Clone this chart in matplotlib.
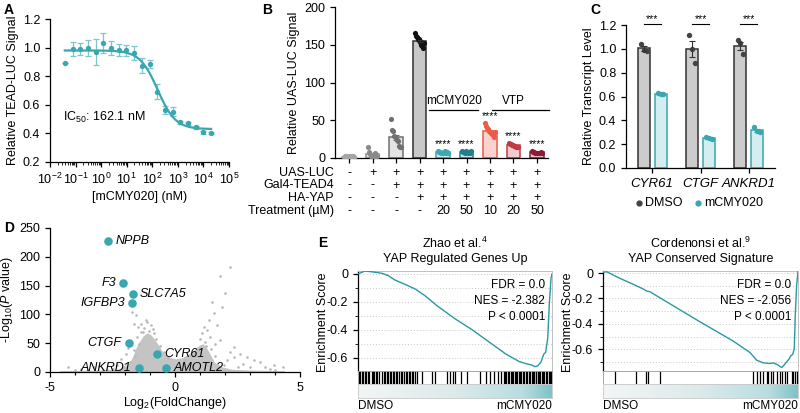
import numpy as np
import matplotlib
matplotlib.use('Agg')
import matplotlib.pyplot as plt
from matplotlib.colors import LinearSegmentedColormap
from matplotlib.ticker import LogLocator, NullFormatter, MultipleLocator, FixedLocator
from matplotlib.lines import Line2D
import matplotlib.transforms as mtransforms

plt.rcParams['font.family'] = ['Liberation Sans', 'DejaVu Sans']
plt.rcParams['font.size'] = 9
plt.rcParams['axes.linewidth'] = 0.9
plt.rcParams['axes.unicode_minus'] = False
plt.rcParams['mathtext.fontset'] = 'custom'
plt.rcParams['mathtext.rm'] = 'Liberation Sans'
plt.rcParams['mathtext.it'] = 'Liberation Sans:italic'
plt.rcParams['mathtext.bf'] = 'Liberation Sans:bold'
plt.rcParams['xtick.major.width'] = 0.9
plt.rcParams['ytick.major.width'] = 0.9
plt.rcParams['xtick.major.size'] = 3.5
plt.rcParams['ytick.major.size'] = 3.5

TEAL = '#3aa7b0'
TEAL_L = '#7cc6cc'
TEAL_D = '#2a98a2'

# ---------------- DATA ----------------
# Panel A: dose response
a_conc = [0.038, 0.076, 0.153, 0.305, 0.61, 1.22, 2.44, 4.88, 9.77, 19.5,
          39.1, 78.1, 156, 313, 625, 1250, 2500, 5000, 10000, 20000]
a_resp = [0.895, 0.99, 0.99, 0.998, 0.967, 1.03, 0.995, 0.984, 0.98, 0.96,
          0.874, 0.884, 0.693, 0.565, 0.553, 0.477, 0.472, 0.442, 0.409, 0.402]
a_err = [0.0, 0.05, 0.04, 0.055, 0.09, 0.07, 0.05, 0.04, 0.04, 0.05,
         0.05, 0.03, 0.05, 0.03, 0.03, 0.01, 0.01, 0.01, 0.01, 0.005]
fit_top, fit_bottom, fit_ic50, fit_hill = 0.98, 0.43, 162.1, 1.25

# Panel B: UAS-LUC reporter
b_points = [
    [1, 2, 3, 1.5, 2.5, 2, 1, 3, 2, 1.5],
    [14, 8, 5, 3, 2, 1, 4, 6, 2, 3],
    [51, 37, 36, 29, 27, 24, 23, 16, 15, 14],
    [165, 162, 160, 158, 157, 155, 153, 150, 148, 146, 152],
    [9, 8, 8, 7, 7, 8, 9, 7, 8, 6],
    [9, 8, 8, 7, 9, 8, 7, 8, 6, 9],
    [46, 42, 40, 38, 36, 34, 33, 32, 30, 28, 35],
    [20, 19, 18, 17, 17, 16, 16, 15, 15, 14],
    [9, 8, 8, 7, 7, 6, 7, 6, 8, 7],
]
b_fill = ['#e6e6e6', '#e6e6e6', '#e3e3e3', '#c8c8c8', '#cdebee', '#cde4e7',
          '#fbd3cc', '#f2c9cc', '#e8c3c9']
b_edge = ['#a5a5a5', '#8a8a8a', '#707070', '#303030', '#3aa9b4', '#1f7f8c',
          '#ee5a48', '#c13a44', '#8c1c33']
b_pts = ['#a5a5a5', '#8a8a8a', '#707070', '#111111', '#3aa9b4', '#1f7f8c',
         '#ee5a48', '#c13a44', '#8c1c33']
b_rows = ['UAS-LUC', 'Gal4-TEAD4', 'HA-YAP', 'Treatment (µM)']
b_table = [
    ['-', '+', '+', '+', '+', '+', '+', '+', '+'],
    ['-', '-', '+', '+', '+', '+', '+', '+', '+'],
    ['-', '-', '-', '+', '+', '+', '+', '+', '+'],
    ['-', '-', '-', '-', '20', '50', '10', '20', '50'],
]

# Panel C: transcript levels
c_genes = ['CYR61', 'CTGF', 'ANKRD1']
c_dmso = [[1.04, 0.99, 0.98], [1.12, 1.00, 0.88], [1.07, 1.05, 0.96]]
c_mcmy = [[0.63, 0.62, 0.62], [0.26, 0.25, 0.24], [0.34, 0.31, 0.30]]

# Panel D: volcano
d_genes = ['NPPB', 'F3', 'SLC7A5', 'IGFBP3', 'CTGF', 'CYR61', 'ANKRD1', 'AMOTL2']
d_fc = [-2.67, -2.09, -1.69, -1.72, -1.85, -0.72, -1.46, -0.35]
d_p = [228, 154, 135, 119, 51, 31, 7.5, 7.5]
d_side = ['r', 'l', 'r', 'l', 'l', 'r', 'l', 'r']
# outline of the dense cloud of non-highlighted genes
cloud_x = [-4.6, -4.6, -3.0, -2.3, -2.0, -1.8, -1.65, -1.55, -1.4, -1.25, -1.1,
           -0.95, -0.8, -0.65, -0.5, -0.35, -0.15, 0.05, 0.3, 0.55, 0.8, 1.0, 1.15,
           1.3, 1.45, 1.6, 1.9, 2.3, 3.0, 4.4, 4.4]
cloud_y = [0, 1.5, 2.5, 4, 8, 15, 28, 40, 52, 62, 67,
           64, 56, 46, 36, 28, 24, 22, 24, 30, 38, 46, 48,
           40, 28, 16, 8, 4, 2.5, 1.5, 0]
sparse_x = [-1.72, -1.58, -1.38, -1.12, -1.25, -1.49, -0.98, -1.65, 2.2, 1.81,
            2.0, 1.87, 1.48, 1.54, 1.34, 1.14, 1.28, 1.68, 1.08, 1.41, 1.81, 2.34,
            2.6, 2.87, 3.14, 3.4, 3.94, 4.33, 2.34, 2.07, 3.0, 3.8, -4.3, -3.78,
            -3.24, -2.71, -2.31, -2.05, -2.18, -1.98, -1.9, -1.52, -1.45, -1.65,
            -1.3, -1.05, -0.85, 1.0, 1.6, 2.2, 2.7, -3.5, -4.0, 4.0, 3.6,
            -1.8, -2.0, -1.6, -0.6, -0.45, -0.3, 0.4, 0.7, 0.9, 1.25, 1.6, 1.95,
            -1.15, -0.9, -1.35, -0.75, 1.2, 1.45, 2.5, -2.5, -2.9]
sparse_y = [105, 99, 84, 87, 76, 78, 81, 84, 183, 166,
            137, 113, 122, 102, 90, 78, 73, 81, 67, 61, 55, 44,
            32, 26, 20, 17, 12, 9, 26, 20, 9, 6, 9, 6,
            9, 4, 12, 9, 23, 32, 41, 61, 49, 38,
            70, 72, 68, 58, 48, 35, 14, 4, 3, 4, 8,
            18, 14, 28, 45, 35, 24, 20, 28, 38, 45, 28, 12,
            90, 75, 70, 58, 52, 40, 8, 6, 4]

# Panel E: GSEA
e1_x = [0, 0.036, 0.062, 0.088, 0.122, 0.156, 0.19, 0.242, 0.294, 0.345, 0.41, 0.5,
        0.59, 0.67, 0.76, 0.83, 0.86, 0.878, 0.895, 0.912, 0.926, 0.943, 0.957,
        0.967, 0.978, 0.986, 0.995, 1.0]
e1_y = [0, 0.021, 0.017, 0.012, 0.005, -0.012, -0.043, -0.074, -0.107, -0.155,
        -0.23, -0.32, -0.40, -0.48, -0.57, -0.625, -0.638, -0.645, -0.65, -0.662,
        -0.657, -0.63, -0.574, -0.56, -0.46, -0.22, -0.03, 0]
e1_hits = [0.005, 0.012, 0.02, 0.027, 0.035, 0.042, 0.05, 0.057, 0.07, 0.078, 0.085,
           0.095, 0.1, 0.11, 0.125, 0.132, 0.14, 0.148, 0.155, 0.163, 0.17, 0.178,
           0.185, 0.195, 0.2, 0.21, 0.22, 0.226, 0.235, 0.245, 0.255, 0.262, 0.27,
           0.278, 0.285, 0.295, 0.305, 0.33, 0.38, 0.395,
           0.46, 0.475, 0.49, 0.5, 0.53, 0.56, 0.63, 0.66, 0.68, 0.7, 0.72, 0.735,
           0.75, 0.758, 0.765, 0.772, 0.78, 0.787, 0.795, 0.8, 0.808, 0.815, 0.82,
           0.828, 0.835, 0.842, 0.85, 0.857, 0.865, 0.872, 0.88, 0.887, 0.895, 0.9,
           0.907, 0.915, 0.92, 0.927, 0.935, 0.94, 0.947, 0.955, 0.96, 0.967, 0.975,
           0.982, 0.99, 0.997]
e2_x = [0, 0.019, 0.053, 0.087, 0.156, 0.207, 0.224, 0.241, 0.258, 0.326, 0.497,
        0.668, 0.754, 0.788, 0.822, 0.856, 0.874, 0.899, 0.916, 0.928, 0.942, 0.956,
        0.962, 0.973, 0.981, 0.986, 0.993, 1.0]
e2_y = [0.005, 0.01, -0.016, -0.042, -0.089, -0.126, -0.142, -0.147, -0.163, -0.226,
        -0.383, -0.535, -0.625, -0.685, -0.706, -0.711, -0.706, -0.724, -0.743,
        -0.724, -0.698, -0.672, -0.651, -0.64, -0.593, -0.33, -0.094, 0.01]
e2_hits = [0.06, 0.17, 0.22, 0.232, 0.29, 0.771, 0.791, 0.805, 0.822, 0.839, 0.848,
           0.86, 0.874, 0.891, 0.908, 0.916, 0.933, 0.942, 0.968, 0.976, 0.985, 0.993]

# ---------------- FIGURE ----------------
W, H = 800, 413
fig = plt.figure(figsize=(8, 4.13), dpi=100)


def box(l, t, r, b):
    return fig.add_axes([l / W, 1 - b / H, (r - l) / W, (b - t) / H])


def ft(x, y, s, **kw):
    return fig.text(x / W, 1 - y / H, s, **kw)


def clean(ax):
    ax.spines['top'].set_visible(False)
    ax.spines['right'].set_visible(False)


# Panel letters
for lt, (x, y) in zip('ABCDE', [(4, 10), (262, 10), (590, 10), (4, 228), (318, 243)]):
    ft(x, y, lt, fontsize=10, fontweight='bold', va='center')

# ---- A ----
axA = box(50, 19, 229, 162)
clean(axA)
axA.set_xscale('log')
axA.set_xlim(1e-2, 1e5)
axA.set_ylim(0.2, 1.2)
axA.errorbar(a_conc, a_resp, yerr=a_err, fmt='none', ecolor=TEAL_L, elinewidth=0.9,
             capsize=2.2, capthick=0.9, zorder=2)
axA.scatter(a_conc, a_resp, s=15, color=TEAL, zorder=3, lw=0)
xx = np.logspace(np.log10(a_conc[0]), np.log10(a_conc[-1]), 300)
yy = fit_bottom + (fit_top - fit_bottom) / (1 + (xx / fit_ic50) ** fit_hill)
axA.plot(xx, yy, color=TEAL, lw=1.6, zorder=2)
axA.set_xticks([10.0 ** k for k in range(-2, 6)])
axA.set_xticklabels(['10$^{%d}$' % k for k in range(-2, 6)])
axA.xaxis.set_minor_locator(LogLocator(base=10, subs=np.arange(2, 10), numticks=20))
axA.xaxis.set_minor_formatter(NullFormatter())
axA.tick_params(axis='x', which='minor', length=2, width=0.6)
axA.set_yticks([0.2, 0.4, 0.6, 0.8, 1.0, 1.2])
axA.set_yticklabels(['0.2', '0.4', '0.6', '0.8', '1.0', '1.2'])
axA.set_xlabel('[mCMY020] (nM)', fontsize=9, labelpad=3)
axA.set_ylabel('Relative TEAD-LUC Signal', fontsize=9, labelpad=3)
axA.text(0.032, 0.515, 'IC$_{50}$: 162.1 nM', fontsize=9, va='center', ha='left')

# ---- B ----
axB = box(335, 7, 548, 158)
clean(axB)
axB.set_xlim(-0.6, 8.47)
axB.set_ylim(0, 200)
for i, vals in enumerate(b_points):
    v = np.array(vals, dtype=float)
    m = v.mean()
    sem = v.std(ddof=1) / np.sqrt(len(v))
    axB.bar(i, m, width=0.58, color=b_fill[i], edgecolor=b_edge[i], lw=1.1, zorder=2)
    axB.errorbar(i, m, yerr=sem, color=b_edge[i], capsize=2, elinewidth=0.8,
                 capthick=0.8, zorder=4)
    offs = np.linspace(-0.2, 0.2, len(v))
    axB.scatter(i + offs, v, s=14, color=b_pts[i], zorder=3, lw=0)
axB.set_xticks(range(9))
axB.set_xticklabels([])
axB.set_yticks([0, 50, 100, 150, 200])
axB.set_ylabel('Relative UAS-LUC Signal', fontsize=9, labelpad=3)
for i, yv in zip([4, 5, 6, 7, 8], [12, 12, 49, 23, 12]):
    axB.text(i, yv, '****', ha='center', va='bottom', fontsize=7.5)
axB.plot([3.4, 5.5], [64, 64], color='k', lw=0.9, clip_on=False)
axB.text(4.45, 68, 'mCMY020', ha='center', va='bottom', fontsize=8.5)
axB.plot([6.1, 8.5], [64, 64], color='k', lw=0.9, clip_on=False)
axB.text(7.0, 68, 'VTP', ha='center', va='bottom', fontsize=8.5)
transB = mtransforms.blended_transform_factory(axB.transData, fig.transFigure)
for r, (lab, yy_) in enumerate(zip(b_rows, [173, 185.5, 198, 211])):
    ft(334, yy_, lab, ha='right', va='center', fontsize=9)
    for i, s in enumerate(b_table[r]):
        axB.text(i, 1 - yy_ / H, s, transform=transB, ha='center', va='center',
                 fontsize=9, clip_on=False)

# ---- C ----
axC = box(626, 25, 775, 168)
clean(axC)
axC.set_xlim(-0.54, 2.54)
axC.set_ylim(0, 1.2)
off = 0.175
for g in range(3):
    for vals, dx, fc, ec, pc in [(c_dmso[g], -off, '#cccccc', '#333333', '#444444'),
                                 (c_mcmy[g], off, '#d3edf0', TEAL, TEAL)]:
        v = np.array(vals)
        m = v.mean()
        sem = v.std(ddof=1) / np.sqrt(len(v))
        axC.bar(g + dx, m, width=0.25, color=fc, edgecolor=ec, lw=1.1, zorder=2)
        axC.errorbar(g + dx, m, yerr=sem, color=ec, capsize=2, elinewidth=0.8,
                     capthick=0.8, zorder=4)
        axC.scatter(g + dx + np.array([-0.06, 0.0, 0.06]), v, s=15, color=pc,
                    zorder=3, lw=0)
    axC.plot([g - off, g + off], [1.205, 1.205], color='k', lw=0.8, clip_on=False)
    axC.text(g, 1.21, '***', ha='center', va='bottom', fontsize=7.5, clip_on=False)
axC.set_xticks(range(3))
axC.set_xticklabels(c_genes, fontstyle='italic', fontsize=9.5)
axC.set_yticks([0, 0.2, 0.4, 0.6, 0.8, 1.0, 1.2])
axC.set_yticklabels(['0.0', '0.2', '0.4', '0.6', '0.8', '1.0', '1.2'])
axC.set_ylabel('Relative Transcript Level', fontsize=9, labelpad=3)
for mx, tx, col, lab in [(639, 645, '#444444', 'DMSO'), (698, 704, TEAL, 'mCMY020')]:
    fig.add_artist(Line2D([mx / W], [1 - 203 / H], marker='o', ms=3.5, color=col,
                          lw=0, transform=fig.transFigure))
    ft(tx, 203, lab, ha='left', va='center', fontsize=9)

# ---- D ----
axD = box(50, 228, 300, 372)
clean(axD)
axD.set_xlim(-5, 5)
axD.set_ylim(0, 250)
axD.fill(cloud_x, cloud_y, color='#c4c4c4', lw=0, zorder=1)
axD.scatter(sparse_x, sparse_y, s=3.5, color='#b8b8b8', lw=0, zorder=1)
axD.scatter(d_fc, d_p, s=38, color=TEAL, lw=0, zorder=3, clip_on=False)
for g, x, y, sd in zip(d_genes, d_fc, d_p, d_side):
    if sd == 'r':
        axD.annotate(g, (x, y), xytext=(5, 0), textcoords='offset points', ha='left',
                     va='center', fontsize=9, fontstyle='italic')
    else:
        axD.annotate(g, (x, y), xytext=(-5, 0), textcoords='offset points', ha='right',
                     va='center', fontsize=9, fontstyle='italic')
axD.set_xticks([-5, 0, 5])
axD.xaxis.set_minor_locator(MultipleLocator(1))
axD.tick_params(axis='x', which='minor', length=2.5, width=0.8)
axD.set_yticks([0, 50, 100, 150, 200, 250])
ft(175, 403, 'Log$_2$(FoldChange)', ha='center', va='center', fontsize=9)
axD.set_ylabel('-Log$_{10}$($\\mathit{P}$ value)', fontsize=9, labelpad=3)

# ---- E ----
grad_cmap = LinearSegmentedColormap.from_list(
    'g', [(0, '#f3f5f5'), (0.5, '#dbeaeb'), (0.85, '#b9dde0'), (1.0, '#7cc3c8')])


def gsea(l, r, ylim, ex, ey, hits, stats, t1, t2, ylx):
    top, s1, s2, bot = 271, 371, 384, 398
    ax = box(l, top, r, s1)
    for v in np.arange(0, -0.8, -0.1):
        ax.axhline(v, ls=(0, (1, 2)), color='#c8c8c8', lw=0.7, zorder=1)
    ax.plot(ex, ey, color=TEAL_D, lw=1.0, zorder=3)
    ax.set_xlim(0, 1)
    ax.set_ylim(*ylim)
    ax.set_xticks([])
    ax.set_yticks([0, -0.2, -0.4, -0.6])
    ax.set_yticklabels(['0', '-0.2', '-0.4', '-0.6'])
    ax.yaxis.set_minor_locator(FixedLocator([-0.1, -0.3, -0.5, -0.7]))
    ax.tick_params(axis='y', which='minor', length=2, width=0.6)
    for sp in ['top', 'right', 'bottom']:
        ax.spines[sp].set_color('#c0c0c0')
        ax.spines[sp].set_linewidth(0.7)
    for k, s in enumerate(stats):
        ax.text(0.965, 0.86 - k * 0.16, s, transform=ax.transAxes, ha='right',
                va='center', fontsize=8.5)
    ax2 = box(l, s1, r, s2)
    ax2.vlines(hits, 0, 1, color='k', lw=0.9)
    ax2.set_xlim(0, 1)
    ax2.set_ylim(0, 1)
    ax2.set_xticks([])
    ax2.set_yticks([])
    for sp in ax2.spines.values():
        sp.set_color('#999999')
        sp.set_linewidth(0.6)
    ax3 = box(l, s2, r, bot)
    ax3.imshow(np.linspace(0, 1, 256)[None, :], aspect='auto', cmap=grad_cmap,
               extent=[0, 1, 0, 1])
    ax3.set_xticks([])
    ax3.set_yticks([])
    for sp in ax3.spines.values():
        sp.set_color('#c8c8c8')
        sp.set_linewidth(0.6)
    cx = (l + r) / 2
    ft(cx, 243, t1, ha='center', va='center', fontsize=9)
    ft(cx, 259, t2, ha='center', va='center', fontsize=9)
    ft(ylx, 322, 'Enrichment Score', rotation=90, ha='center', va='center', fontsize=9)
    ft(l, 406, 'DMSO', ha='left', va='center', fontsize=8.5)
    ft(r, 406, 'mCMY020', ha='right', va='center', fontsize=8.5)


gsea(358, 552, (-0.693, 0.021), e1_x, e1_y, e1_hits,
     ['FDR = 0.0', 'NES = -2.382', 'P < 0.0001'],
     'Zhao et al.$^{4}$', 'YAP Regulated Genes Up', 323)
gsea(603, 798, (-0.77, 0.016), e2_x, e2_y, e2_hits,
     ['FDR = 0.0', 'NES = -2.056', 'P < 0.0001'],
     'Cordenonsi et al.$^{9}$', 'YAP Conserved Signature', 568)

fig.savefig('out.png', dpi=100)
